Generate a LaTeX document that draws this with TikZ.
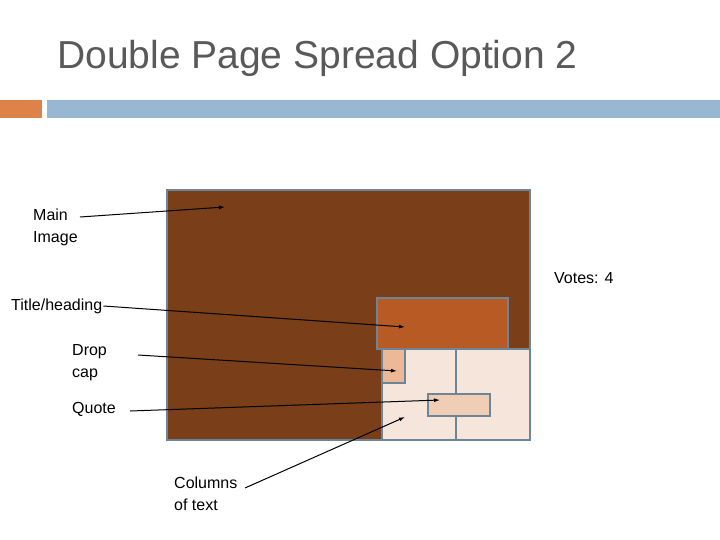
\documentclass[tikz,border=0pt]{standalone}
\usepackage{fontspec}
\setmainfont{Liberation Sans}
\usetikzlibrary{arrows.meta}
\definecolor{brown1}{HTML}{7A3E18}
\definecolor{rust}{HTML}{B85A24}
\definecolor{cream}{HTML}{F6E5DB}
\definecolor{peach}{HTML}{EDB898}
\definecolor{quotec}{HTML}{F0CDB5}
\definecolor{frame}{HTML}{6E8497}
\definecolor{barblue}{HTML}{97B7D3}
\definecolor{barorange}{HTML}{DD8249}
\definecolor{titlec}{HTML}{595959}
\tikzset{box/.style={draw=frame,line width=2.5pt},
lbl/.style={font=\fontsize{16}{22}\selectfont,align=left,inner sep=1pt},
arr/.style={-{Latex[length=6pt,width=4pt]},line width=1pt}}
\begin{document}
\begin{tikzpicture}[x=1pt,y=-1pt]
\useasboundingbox (0,0) rectangle (720,540);
\node[font=\fontsize{39}{44}\selectfont,text=titlec,anchor=west,inner sep=0pt] (title) at (57,58) {Double Page Spread Option 2};
\fill[barorange] (0,100) rectangle (42,118);
\fill[barblue] (47,100) rectangle (720,118);
\filldraw[box,fill=brown1] (167,190) rectangle (530,440);
\filldraw[box,fill=cream] (382,349) rectangle (530,440);
\draw[draw=frame,line width=2.5pt] (456,349) -- (456,394) (456,416) -- (456,440);
\filldraw[box,fill=rust] (377,298) rectangle (508,349);
\filldraw[box,fill=peach] (382,349) rectangle (405,383);
\filldraw[box,fill=quotec] (428,394) rectangle (490,416);
\node[lbl,anchor=west] (main) at (32,227) {Main\\Image};
\node[lbl,anchor=west] (th) at (10,306) {Title/heading};
\node[lbl,anchor=west] (drop) at (71,363) {Drop\\cap};
\node[lbl,anchor=west] (quote) at (71,409) {Quote};
\node[lbl,anchor=west] (cols) at (173,494) {Columns\\of text};
\node[lbl,anchor=west] (votes) at (553,278) {Votes: 4};
\coordinate (tmain) at (225,207);
\coordinate (tth) at (405,327);
\coordinate (tdrop) at (397,371);
\coordinate (tquote) at (440,400);
\coordinate (tcols) at (405,417);
\coordinate (smain) at (80,217);
\coordinate (sdrop) at (138,355);
\coordinate (squote) at (130,411);
\coordinate (scols) at (245,488);
\draw[arr] (smain) -- (tmain);
\draw[arr] (th.east) -- (tth);
\draw[arr] (sdrop) -- (tdrop);
\draw[arr] (squote) -- (tquote);
\draw[arr] (scols) -- (tcols);
\end{tikzpicture}
\end{document}
